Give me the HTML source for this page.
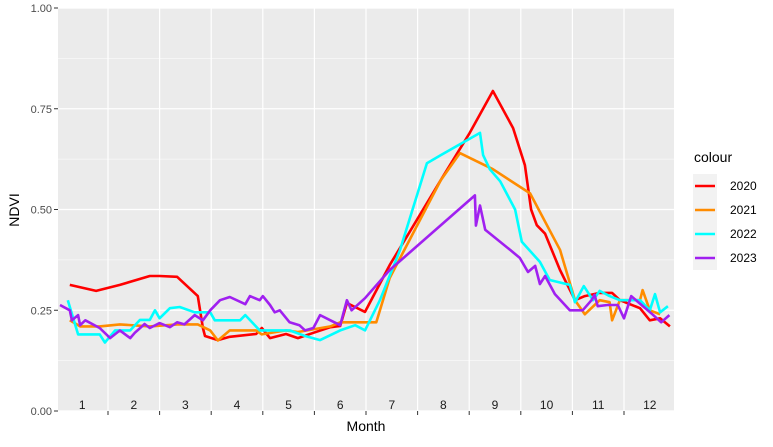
<!DOCTYPE html>
<html><head><meta charset="utf-8"><style>
body{margin:0;background:#fff;font-family:"Liberation Sans",Arial,sans-serif}
</style></head><body>
<svg width="773" height="442" xmlns="http://www.w3.org/2000/svg" style="font-family:'Liberation Sans',Arial,sans-serif">
<g id="root"></g>
</svg>
<script>
const yTicks=[0,0.25,0.5,0.75,1.0];
const yTickLabels=["0.00","0.25","0.50","0.75","1.00"];
const monthLabels=["1","2","3","4","5","6","7","8","9","10","11","12"];
const years=["2020","2021","2022","2023"];
const colors=["#ff0000","#ff8c00","#00ffff","#a020f0"];
const t2020=[0.26,0.77,1.23,1.81,2.0,2.34,2.74,2.84,2.88,3.13,3.36,3.87,3.98,4.14,4.45,4.68,4.98,5.31,5.5,5.63,5.98,6.46,7.45,8.01,8.46,8.85,9.08,9.2,9.31,9.47,9.76,10.05,10.24,10.53,10.77,10.92,11.31,11.5,11.7,11.89];
const v2020=[0.313,0.298,0.313,0.335,0.335,0.333,0.285,0.206,0.186,0.176,0.184,0.191,0.206,0.181,0.191,0.181,0.194,0.208,0.211,0.268,0.246,0.362,0.573,0.69,0.794,0.702,0.61,0.5,0.461,0.44,0.35,0.275,0.285,0.293,0.293,0.275,0.255,0.225,0.23,0.21];
const t2021=[0.26,0.46,0.84,1.23,1.81,2.34,2.74,2.98,3.13,3.36,3.87,3.98,4.45,4.68,5.31,5.5,5.98,6.2,6.46,7.45,7.82,8.46,9.18,9.76,10.05,10.24,10.53,10.72,10.77,10.92,11.31,11.36,11.5,11.7];
const v2021=[0.225,0.21,0.21,0.215,0.21,0.215,0.215,0.2,0.175,0.2,0.2,0.19,0.2,0.196,0.21,0.22,0.22,0.22,0.33,0.573,0.64,0.6,0.54,0.4,0.275,0.24,0.275,0.27,0.225,0.275,0.275,0.3,0.25,0.24];
const t2022=[0.22,0.42,0.84,0.94,1.14,1.43,1.62,1.81,1.91,2.0,2.2,2.39,2.68,2.98,3.07,3.56,3.66,3.94,4.52,4.82,5.11,5.5,5.79,5.98,6.27,6.66,7.18,7.45,8.21,8.27,8.4,8.6,8.89,9.02,9.37,9.56,9.95,10.05,10.22,10.4,10.53,10.72,10.92,11.31,11.5,11.6,11.7,11.85];
const v2022=[0.275,0.19,0.19,0.17,0.2,0.2,0.226,0.226,0.25,0.23,0.255,0.258,0.245,0.245,0.225,0.225,0.238,0.2,0.2,0.186,0.176,0.2,0.213,0.2,0.275,0.4,0.615,0.635,0.69,0.635,0.6,0.57,0.5,0.42,0.37,0.325,0.313,0.27,0.31,0.275,0.298,0.285,0.275,0.275,0.25,0.29,0.245,0.26];
const t2023=[0.07,0.26,0.3,0.42,0.46,0.56,0.84,1.04,1.23,1.43,1.52,1.71,1.81,2.0,2.2,2.34,2.48,2.68,2.84,2.98,3.17,3.36,3.66,3.75,3.94,4.0,4.14,4.23,4.33,4.52,4.71,4.82,4.98,5.11,5.31,5.5,5.63,5.72,5.98,6.46,8.11,8.13,8.21,8.31,8.79,8.98,9.14,9.28,9.37,9.47,9.66,9.95,10.2,10.37,10.43,10.49,10.68,10.88,11.0,11.14,11.55,11.72,11.88];
const v2023=[0.263,0.25,0.225,0.238,0.213,0.225,0.206,0.181,0.2,0.181,0.194,0.216,0.206,0.218,0.208,0.22,0.215,0.238,0.225,0.25,0.275,0.283,0.265,0.285,0.275,0.285,0.263,0.245,0.25,0.22,0.213,0.2,0.206,0.238,0.225,0.213,0.275,0.25,0.28,0.35,0.535,0.46,0.51,0.45,0.4,0.38,0.345,0.36,0.315,0.335,0.29,0.25,0.25,0.275,0.288,0.26,0.263,0.263,0.23,0.285,0.24,0.22,0.238];
const T=[t2020,t2021,t2022,t2023], V=[v2020,v2021,v2022,v2023];
const L=58,R=674,TOP=8,BOT=411;
const xs=m=>56.4+51.6*m;
const ys=v=>BOT-(BOT-TOP)*v;
const NS="http://www.w3.org/2000/svg";
const root=document.getElementById('root');
function mk(tag,attrs,parent){const e=document.createElementNS(NS,tag);for(const k in attrs)e.setAttribute(k,attrs[k]);(parent||root).appendChild(e);return e;}
const panel=mk('rect',{x:L,y:TOP,width:R-L,height:BOT-TOP,fill:'#ebebeb'});


for(let i=0;i<4;i++){const v=yTicks[i]+0.125;const l=mk('line',{x1:L,x2:R,y1:ys(v),y2:ys(v),stroke:'#fff','stroke-width':0.6});

}
yTicks.forEach((v,i)=>{const l=mk('line',{x1:L,x2:R,y1:ys(v),y2:ys(v),stroke:'#fff','stroke-width':1.2});


const tk=mk('line',{x1:L-4,x2:L,y1:ys(v),y2:ys(v),stroke:'#333','stroke-width':1});


const t=mk('text',{x:L-6,y:ys(v)+4,'text-anchor':'end','font-size':11,fill:'#4d4d4d'});t.textContent=yTickLabels[i];

});
for(let k=1;k<=11;k++){const l=mk('line',{x1:xs(k),x2:xs(k),y1:TOP,y2:BOT,stroke:'#fff','stroke-width':1.2});


const tk=mk('line',{x1:xs(k),x2:xs(k),y1:BOT,y2:BOT+4,stroke:'#333','stroke-width':1});

}
monthLabels.forEach((m,i)=>{const t=mk('text',{x:xs(i+0.5),y:409,'text-anchor':'middle','font-size':12,fill:'#1a1a1a'});t.textContent=m;

});
years.forEach((y,s)=>{const d=T[s].map((t,i)=>(i?'L':'M')+xs(t).toFixed(1)+','+ys(V[s][i]).toFixed(1)).join('');
const p=mk('path',{d:d,fill:'none',stroke:colors[s],'stroke-width':2.6,'stroke-linejoin':'round'});

});
const xt=mk('text',{x:366,y:431,'text-anchor':'middle','font-size':14,fill:'#000'});xt.textContent='Month';


const yt=mk('text',{x:0,y:0,transform:'translate(19,210) rotate(-90)','text-anchor':'middle','font-size':14,fill:'#000'});yt.textContent='NDVI';


const lg=mk('g',{});


const lt=mk('text',{x:694,y:162,'font-size':14,fill:'#000'},lg);lt.textContent='colour';


years.forEach((y,s)=>{const cy=186+s*24;
const e=mk('g',{},lg);


mk('rect',{x:693,y:cy-12,width:24,height:24,fill:'#f2f2f2'},e);
mk('line',{x1:695,x2:715,y1:cy,y2:cy,stroke:colors[s],'stroke-width':2.6},e);
const t=mk('text',{x:730,y:cy+4,'font-size':12,fill:'#000'},e);t.textContent=y;});
</script>
</body></html>
